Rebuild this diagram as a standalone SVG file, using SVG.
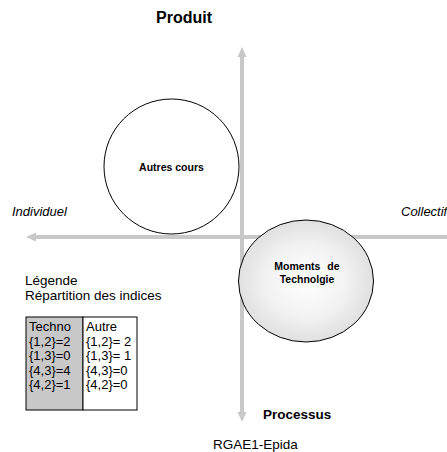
<svg xmlns="http://www.w3.org/2000/svg" width="447" height="452" viewBox="0 0 447 452">
<style>
text{font-family:"Liberation Sans",Arial,sans-serif;fill:#000}
.b{font-weight:bold}
.i{font-style:italic;font-size:13px}
.t{font-size:13px}
.l{font-size:13.5px}
.n{font-weight:bold;font-size:10.5px;text-anchor:middle}
.ax{stroke:#c8c8c8;stroke-width:4;fill:none}
.ah{fill:#c8c8c8}
</style>
<defs>
<radialGradient id="g" cx="0.5" cy="0.5" r="0.5">
<stop offset="0" stop-color="#ffffff"/>
<stop offset="0.6" stop-color="#f2f2f2"/>
<stop offset="1" stop-color="#e0e0e0"/>
</radialGradient>
</defs>
<rect width="447" height="452" fill="#fff"/>
<text class="b" x="184" y="23" font-size="16" text-anchor="middle">Produit</text>
<g id="autres">
<circle cx="171.5" cy="166.5" r="67.5" fill="#fff" stroke="#000" stroke-width="1"/>
<text class="n" x="171.5" y="171">Autres cours</text>
</g>
<g id="axes">
<line class="ax" x1="242" y1="56" x2="242" y2="413"/>
<polygon class="ah" points="242,47 237.5,57 246.5,57"/>
<polygon class="ah" points="242,422 237.5,412 246.5,412"/>
<line class="ax" x1="35" y1="237" x2="447" y2="237"/>
<polygon class="ah" points="26,237 36,232.5 36,241.5"/>
</g>
<text class="i" x="12" y="216">Individuel</text>
<text class="i" x="401" y="216">Collectif</text>
<g id="moments">
<ellipse cx="306" cy="281" rx="67.5" ry="61" fill="url(#g)" stroke="#000" stroke-width="1"/>
<text class="n" x="307" y="270" word-spacing="4">Moments de</text>
<text class="n" x="307" y="283">Technolgie</text>
</g>
<text class="l" x="25" y="285">Légende</text>
<text class="l" x="25" y="300">Répartition des indices</text>
<g id="table">
<rect x="26" y="317" width="57" height="93" fill="#c8c8c8" stroke="#000" stroke-width="1"/>
<rect x="83" y="317" width="54" height="93" fill="#fff" stroke="#000" stroke-width="1"/>
<text class="t" x="29" y="331">Techno</text>
<text class="t" x="29" y="345.5">{1,2}=2</text>
<text class="t" x="29" y="360">{1,3}=0</text>
<text class="t" x="29" y="374.5">{4,3}=4</text>
<text class="t" x="29" y="389">{4,2}=1</text>
<text class="t" x="86" y="331">Autre</text>
<text class="t" x="86" y="345.5">{1,2}= 2</text>
<text class="t" x="86" y="360">{1,3}= 1</text>
<text class="t" x="86" y="374.5">{4,3}=0</text>
<text class="t" x="86" y="389">{4,2}=0</text>
</g>
<text class="b" x="263" y="419" font-size="13.5">Processus</text>
<text x="213" y="449" font-size="13.5">RGAE1-Epida</text>
</svg>
